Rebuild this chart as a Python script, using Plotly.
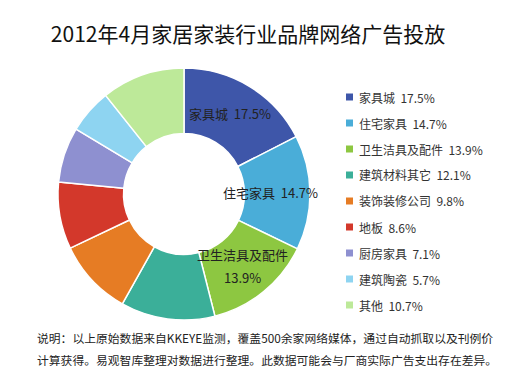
import plotly.graph_objects as go
import math

W, H = 521, 381

categories = ["家具城", "住宅家具", "卫生洁具及配件", "建筑材料其它", "装饰装修公司",
              "地板", "厨房家具", "建筑陶瓷", "其他"]
shares = [17.5, 14.7, 13.9, 12.1, 9.8, 8.6, 7.1, 5.7, 10.7]
colors = ["#3E56A9", "#4AADD8", "#8DC741", "#3BAF99", "#E67C24",
          "#D3382B", "#8E90D0", "#8ED4F1", "#BDE999"]
labelled = [0, 1, 2]  # slices with an inside label

title_text = "2012年4月家居家装行业品牌网络广告投放"
note_lines = [
    "说明：以上原始数据来自KKEYE监测，覆盖500余家网络媒体，通过自动抓取以及刊例价",
    "计算获得。易观智库整理对数据进行整理。此数据可能会与厂商实际广告支出存在差异。",
]

FONT = "Noto Sans CJK SC, Microsoft YaHei, sans-serif"

# pie geometry (pixels)
cx, cy, r_out = 184, 194, 126
hole = 0.48

def px(x):
    return x / W

def py(y):
    return 1 - y / H

fig = go.Figure(go.Pie(
    labels=categories,
    values=shares,
    marker=dict(colors=colors, line=dict(color="white", width=1.5)),
    hole=hole,
    sort=False,
    direction="clockwise",
    rotation=0,
    textinfo="none",
    hoverinfo="label+percent",
    showlegend=False,
    domain=dict(x=[px(cx - r_out), px(cx + r_out)], y=[py(cy + r_out), py(cy - r_out)]),
))

annotations = []
shapes = []

# inside labels positioned at slice mid-angle (derived from data)
nudge = {0: (-3, -1), 1: (-7, 0), 2: (0, 0)}
total = sum(shares)
cum = 0
r_mid = (r_out + r_out * hole) / 2
for i, v in enumerate(shares):
    mid = (cum + v / 2) / total * 2 * math.pi
    cum += v
    if i not in labelled:
        continue
    dx, dy = nudge[i]
    lx = cx + r_mid * math.sin(mid) + dx
    ly = cy - r_mid * math.cos(mid) + dy
    pct = f"{v:.1f}%"
    if i == 2:
        lines = [categories[i], pct]
    else:
        lines = [f"{categories[i]}  {pct}"]
    n = len(lines)
    for k, t in enumerate(lines):
        yy = ly + (k - (n - 1) / 2) * 23
        annotations.append(dict(
            x=px(lx), y=py(yy), xref="paper", yref="paper", text=t, showarrow=False,
            xanchor="center", yanchor="middle", font=dict(family=FONT, size=13, color="#222222"),
        ))

# legend built from the data
leg_top, leg_step = 97, 26
for i, (c, v) in enumerate(zip(categories, shares)):
    yy = leg_top + i * leg_step
    shapes.append(dict(type="rect", xref="paper", yref="paper",
                       x0=px(346), x1=px(353), y0=py(yy + 3.5), y1=py(yy - 3.5),
                       fillcolor=colors[i], line=dict(width=0)))
    annotations.append(dict(
        x=px(357), y=py(yy), xref="paper", yref="paper", text=f"{c}  {v:.1f}%",
        showarrow=False, xanchor="left", yanchor="middle",
        font=dict(family=FONT, size=12, color="#333333"),
    ))

# footnote
for k, t in enumerate(note_lines):
    annotations.append(dict(
        x=px(35), y=py(337 + k * 22), xref="paper", yref="paper", text=t,
        showarrow=False, xanchor="left", yanchor="middle",
        font=dict(family=FONT, size=11.8, color="#222222"),
    ))

fig.update_layout(
    width=W, height=H,
    margin=dict(l=0, r=0, t=0, b=0),
    paper_bgcolor="white", plot_bgcolor="white",
    title=dict(text=title_text, x=px(248), y=py(35), xanchor="center", yanchor="middle",
               xref="paper", yref="paper",
               font=dict(family=FONT, size=21, color="#111111")),
    annotations=annotations,
    shapes=shapes,
)

fig.write_html("out.html", post_script="document.body.style.margin='0';",
               config={"displayModeBar": False})
